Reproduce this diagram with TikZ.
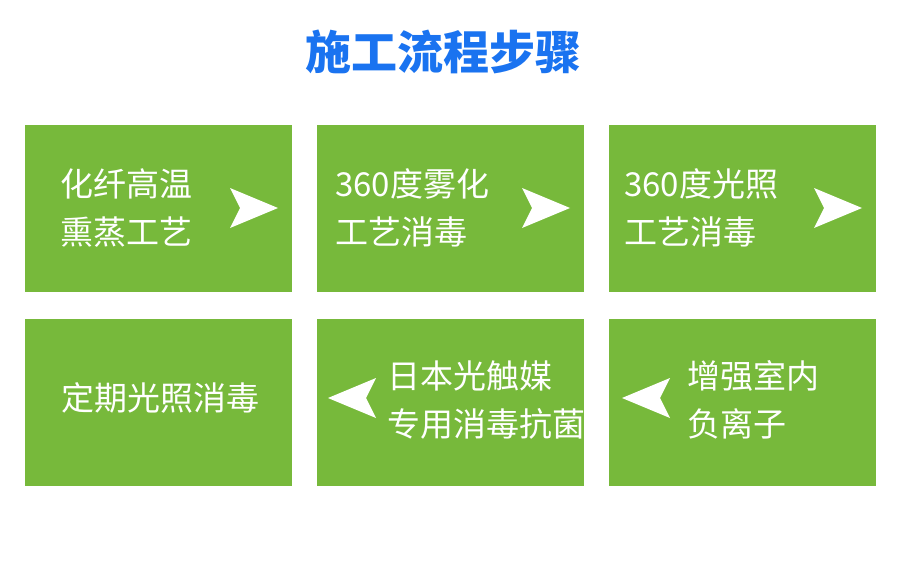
\documentclass[tikz,border=0pt]{standalone}
\usepackage{fontspec}
\newfontfamily\cjk{Noto Sans CJK SC}
\usetikzlibrary{positioning}
\definecolor{boxgreen}{HTML}{77B93B}
\definecolor{titleblue}{HTML}{1A73F0}
\tikzset{stepbox/.style={fill=boxgreen,draw=none,minimum width=267pt,minimum height=167pt,inner sep=0pt}}
\tikzset{steptext/.style={text=white,font=\cjk\fontsize{33}{48}\selectfont,align=left,inner sep=0pt}}
\tikzset{chev/.style={fill=white,draw=none}}
\newcommand{\rchev}[2]{\fill[chev] (#1-24,#2-20)--(#1+24,#2)--(#1-24,#2+20)--(#1-14,#2)--cycle;}
\newcommand{\lchev}[2]{\fill[chev] (#1+24,#2-20)--(#1-24,#2)--(#1+24,#2+20)--(#1+14,#2)--cycle;}
\begin{document}
\begin{tikzpicture}[x=1pt,y=-1pt]
  \useasboundingbox (0,0) rectangle (900,570);
  \node (title) at (443,52) {\cjk\bfseries\fontsize{46}{46}\selectfont\color{titleblue}施工流程步骤};
  % top row
  \node[stepbox] (s1) at (158.5,208) {};
  \node[stepbox] (s2) at (450.5,208) {};
  \node[stepbox] (s3) at (742.5,208) {};
  % bottom row
  \node[stepbox] (s4) at (158.5,402) {};
  \node[stepbox] (s5) at (450.5,402) {};
  \node[stepbox] (s6) at (742.5,402) {};
  \node[steptext,anchor=west] (t1) at (60,208) {化纤高温\\熏蒸工艺};
  \node[steptext,anchor=west] (t2) at (335,208) {360度雾化\\工艺消毒};
  \node[steptext,anchor=west] (t3) at (624,208) {360度光照\\工艺消毒};
  \node[steptext] (t4) at (160,398) {定期光照消毒};
  \node[steptext,anchor=west] (t5) at (387,400) {日本光触媒\\专用消毒抗菌};
  \node[steptext,anchor=west] (t6) at (687,400) {增强室内\\负离子};
  \rchev{254}{208}
  \rchev{546}{208}
  \rchev{838}{208}
  \lchev{352}{398}
  \lchev{646}{398}
\end{tikzpicture}
\end{document}
